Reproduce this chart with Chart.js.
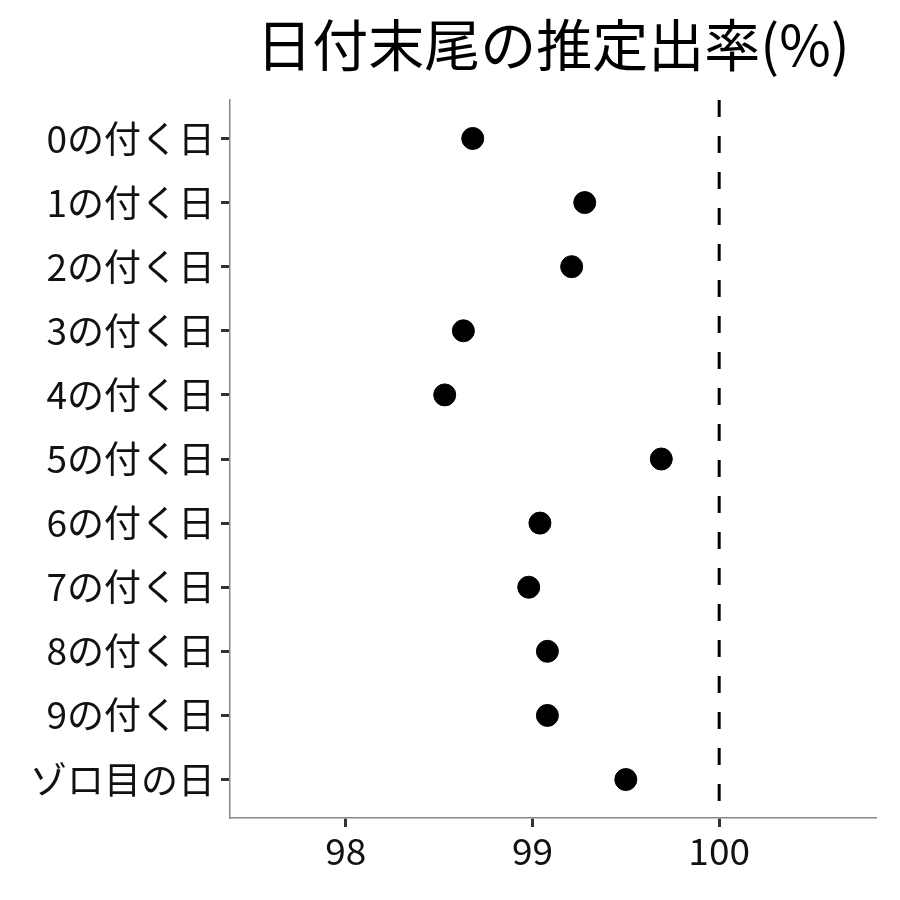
<!DOCTYPE html>
<html>
<head>
<meta charset="utf-8">
<script src="https://cdn.jsdelivr.net/npm/chart.js@4.4.0/dist/chart.umd.min.js"></script>
<style>
  html, body { margin: 0; padding: 0; background: #fff; }
  #wrap { width: 900px; height: 900px; }
</style>
</head>
<body>
<div id="wrap"><canvas id="chart" width="900" height="900"></canvas></div>
<script>
// データ
const titleText = '日付末尾の推定出率(%)';
const categories = ['0の付く日', '1の付く日', '2の付く日', '3の付く日', '4の付く日',
                    '5の付く日', '6の付く日', '7の付く日', '8の付く日', '9の付く日', 'ゾロ目の日'];
const payoutRates = [98.68, 99.28, 99.21, 98.63, 98.53, 99.69, 99.04, 98.98, 99.08, 99.08, 99.50];
const xTicks = [98, 99, 100];
const refLine = 100;
const xMin = 97.38;
const xMax = 100.84;

const FONT = "'Noto Sans CJK JP', 'Noto Sans', sans-serif";

// タイトルをプロット領域の中央に描く
const titlePlugin = {
    id: 'centerTitle',
    afterDraw(chart) {
        const ctx = chart.ctx;
        const area = chart.chartArea;
        ctx.save();
        ctx.fillStyle = '#000';
        ctx.font = '56px ' + FONT;
        ctx.textAlign = 'center';
        ctx.textBaseline = 'middle';
        ctx.fillText(titleText, (area.left + area.right) / 2, 45);
        ctx.restore();
    }
};

// 100% の破線
const refLinePlugin = {
    id: 'refLine',
    beforeDatasetsDraw(chart) {
        const ctx = chart.ctx;
        const area = chart.chartArea;
        const x = chart.scales.x.getPixelForValue(refLine);
        ctx.save();
        ctx.strokeStyle = '#000';
        ctx.lineWidth = 3;
        ctx.setLineDash([17, 19]);
        ctx.beginPath();
        ctx.moveTo(x, area.top);
        ctx.lineTo(x, area.bottom);
        ctx.stroke();
        ctx.restore();
    }
};

const points = payoutRates.map((v, i) => ({ x: v, y: i }));

new Chart(document.getElementById('chart').getContext('2d'), {
    type: 'scatter',
    data: {
        datasets: [{
            data: points,
            backgroundColor: '#000',
            borderColor: '#000',
            pointRadius: 11,
            pointHoverRadius: 11
        }]
    },
    options: {
        responsive: false,
        animation: false,
        layout: { padding: { top: 100, right: 24, bottom: 0, left: 0 } },
        plugins: {
            legend: { display: false },
            tooltip: { enabled: false }
        },
        scales: {
            x: {
                type: 'linear',
                min: xMin,
                max: xMax,
                afterBuildTicks: scale => { scale.ticks = xTicks.map(v => ({ value: v })); },
                afterFit: scale => { scale.height = 82; },
                border: { color: '#888', width: 1.5 },
                grid: { drawOnChartArea: false, tickLength: 9, tickColor: '#333', tickWidth: 3 },
                ticks: { color: '#111', font: { family: FONT, size: 37 }, padding: 2 }
            },
            y: {
                type: 'linear',
                reverse: true,
                min: -0.6,
                max: categories.length - 1 + 0.6,
                afterBuildTicks: scale => { scale.ticks = categories.map((c, i) => ({ value: i })); },
                afterFit: scale => { scale.width = 230; },
                border: { color: '#888', width: 1.5 },
                grid: { drawOnChartArea: false, tickLength: 9, tickColor: '#333', tickWidth: 3 },
                ticks: {
                    color: '#111',
                    font: { family: FONT, size: 37 },
                    padding: 6,
                    callback: v => categories[v]
                }
            }
        }
    },
    plugins: [titlePlugin, refLinePlugin]
});
</script>
</body>
</html>
